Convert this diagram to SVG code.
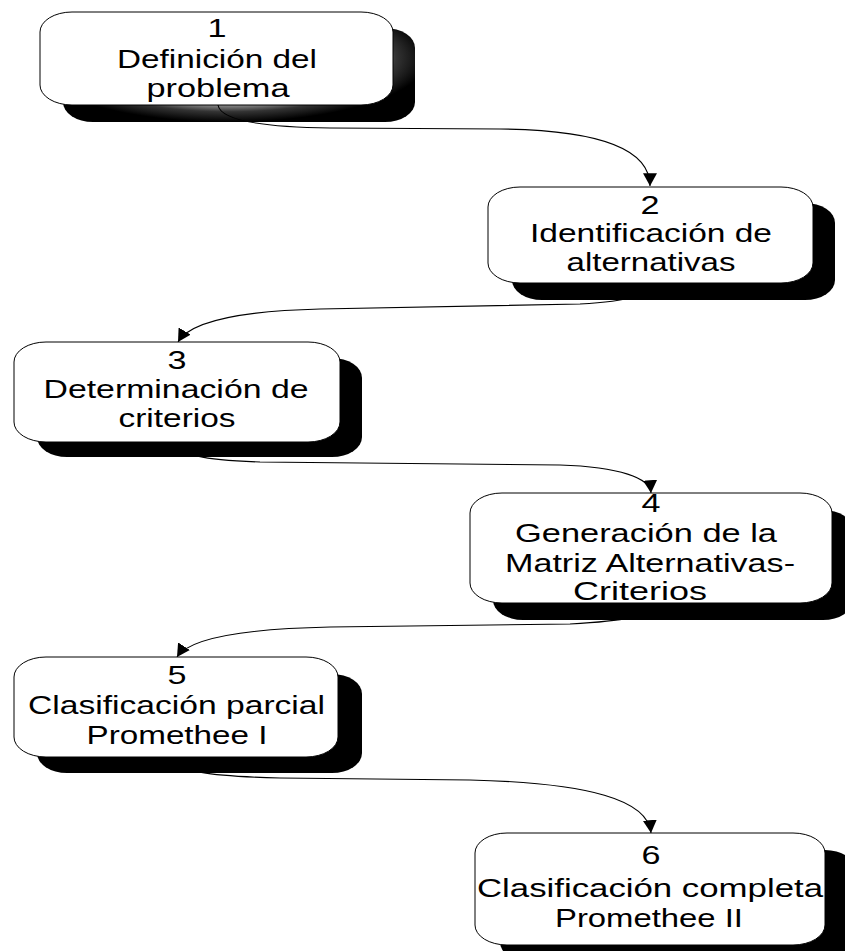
<svg xmlns="http://www.w3.org/2000/svg" width="845" height="951" viewBox="0 0 845 951">
<style>
.box{fill:#fff;stroke:#000;stroke-width:1}
.sh{fill:#000}
.t{font-family:"Liberation Sans",Arial,sans-serif;font-size:25.5px;fill:#000;text-anchor:middle}
.c{fill:none;stroke:#000;stroke-width:1.1}
</style>
<defs>
<marker id="ah" markerUnits="userSpaceOnUse" markerWidth="14" markerHeight="14" viewBox="0 0 12 12" refX="11" refY="6" orient="auto">
<path d="M0,0 L11,6 L0,12 Z" fill="#000"/>
</marker>
<radialGradient id="g1" gradientUnits="userSpaceOnUse" cx="0" cy="0" r="1" gradientTransform="translate(228,58) scale(200,64)">
<stop offset="0" stop-color="#fff"/>
<stop offset="0.68" stop-color="#bbb"/>
<stop offset="0.84" stop-color="#333"/>
<stop offset="1" stop-color="#000"/>
</radialGradient>
</defs>
<g id="node1">
<rect x="63" y="28" width="352" height="94" rx="30" ry="20" fill="url(#g1)"/>
<rect class="box" x="40" y="12" width="353" height="93" rx="32" ry="20"/>
<text class="t" x="217" y="36.5" textLength="19" lengthAdjust="spacingAndGlyphs">1</text>
<text class="t" x="217" y="67.5" textLength="200" lengthAdjust="spacingAndGlyphs">Definición del</text>
<text class="t" x="218" y="96.5" textLength="143" lengthAdjust="spacingAndGlyphs">problema</text>
</g>
<g id="connectors">
<path class="c" d="M218,105 C220,118 250,127 330,128 L500,129 C590,130 650,145 650,186" marker-end="url(#ah)"/>
<path class="c" d="M650,283 C648,296 630,301 580,304 L320,309 C240,311 190,322 178,342" marker-end="url(#ah)"/>
<path class="c" d="M177,442 C182,455 200,460 260,462 L560,465 C620,467 650,478 651,493" marker-end="url(#ah)"/>
<path class="c" d="M651,603 C648,617 625,621 570,624 L330,627 C235,629 188,640 177,657" marker-end="url(#ah)"/>
<path class="c" d="M176,757 C180,772 205,776 280,778 L470,780 C590,783 648,800 651,833" marker-end="url(#ah)"/>
</g>
<g id="node2">
<rect class="sh" x="512" y="203" width="323" height="97" rx="30" ry="20"/>
<rect class="box" x="488" y="187" width="325" height="96" rx="32" ry="20"/>
<text class="t" x="650" y="213.5" textLength="19" lengthAdjust="spacingAndGlyphs">2</text>
<text class="t" x="651" y="242" textLength="242" lengthAdjust="spacingAndGlyphs">Identificación de</text>
<text class="t" x="651" y="271" textLength="169" lengthAdjust="spacingAndGlyphs">alternativas</text>
</g>
<g id="node3">
<rect class="sh" x="37" y="358" width="325" height="99" rx="30" ry="20"/>
<rect class="box" x="14" y="342" width="326" height="100" rx="32" ry="20"/>
<text class="t" x="177" y="369" textLength="19" lengthAdjust="spacingAndGlyphs">3</text>
<text class="t" x="176" y="398" textLength="265" lengthAdjust="spacingAndGlyphs">Determinación de</text>
<text class="t" x="177" y="426.5" textLength="117" lengthAdjust="spacingAndGlyphs">criterios</text>
</g>
<g id="node4">
<rect class="sh" x="493" y="510" width="360" height="110" rx="30" ry="20"/>
<rect class="box" x="470" y="493" width="362" height="110" rx="32" ry="20"/>
<text class="t" x="651" y="512" textLength="19" lengthAdjust="spacingAndGlyphs">4</text>
<text class="t" x="646" y="541.5" textLength="262" lengthAdjust="spacingAndGlyphs">Generación de la</text>
<text class="t" x="650" y="571.5" textLength="290" lengthAdjust="spacingAndGlyphs">Matriz Alternativas-</text>
<text class="t" x="640" y="600" textLength="134" lengthAdjust="spacingAndGlyphs">Criterios</text>
</g>
<g id="node5">
<rect class="sh" x="37" y="674" width="325" height="99" rx="30" ry="20"/>
<rect class="box" x="14" y="657" width="324" height="100" rx="32" ry="20"/>
<text class="t" x="177" y="684" textLength="19" lengthAdjust="spacingAndGlyphs">5</text>
<text class="t" x="176.5" y="714" textLength="297" lengthAdjust="spacingAndGlyphs">Clasificación parcial</text>
<text class="t" x="177" y="744" textLength="181" lengthAdjust="spacingAndGlyphs">Promethee I</text>
</g>
<g id="node6">
<rect class="sh" x="500" y="850" width="355" height="112" rx="30" ry="20"/>
<rect class="box" x="475" y="833" width="350" height="112" rx="32" ry="20"/>
<text class="t" x="651" y="863.5" textLength="19" lengthAdjust="spacingAndGlyphs">6</text>
<text class="t" x="650" y="896.5" textLength="346" lengthAdjust="spacingAndGlyphs">Clasificación completa</text>
<text class="t" x="649" y="926.5" textLength="188" lengthAdjust="spacingAndGlyphs">Promethee II</text>
</g>
</svg>
